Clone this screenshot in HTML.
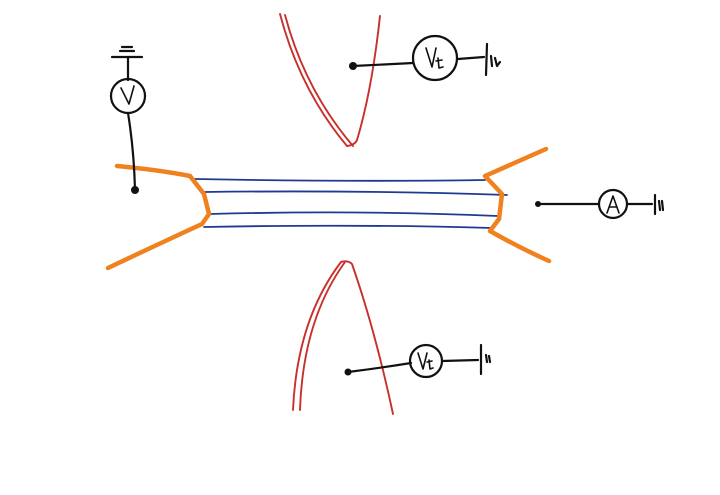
<!DOCTYPE html>
<html><head><style>html,body{margin:0;padding:0;background:#fff;}svg{display:block}</style></head>
<body>
<svg width="720" height="495" viewBox="0 0 720 495" xmlns="http://www.w3.org/2000/svg" fill="none" stroke-linecap="round" stroke-linejoin="round">
<g stroke="#1f3a93" stroke-width="1.8">
<path d="M195 179 Q350 182 485 180"/>
<path d="M205 192 Q360 190 507 195"/>
<path d="M210 214 Q360 210 498 216"/>
<path d="M204 227 Q360 224 492 228"/>
</g>
<g stroke="#f0811f" stroke-width="4.5">
<path d="M117 166 Q160 170 190 176 L204 194 L209 214 L202 224 Q150 248 108 268"/>
<path d="M546 149 L485 176 L502 194 L499 219 L490 231 Q520 248 549 261"/>
</g>
<g stroke="#c8312b" stroke-width="1.9">
<path d="M280 14 Q300 90 347 146"/>
<path d="M285 15 Q305 90 353 146"/>
<path d="M347 146 Q355 145 357 140 Q372 90 380 16"/>
<path d="M293 410 Q297 320 341 262"/>
<path d="M300 410 Q303 320 345 262"/>
<path d="M341 262 Q348 260 352 264 Q375 330 393 414"/>
</g>
<g stroke="#111" stroke-width="2.2">
<path d="M112 57 L142 57 M120 51 L134 51 M122 47 L132 47"/>
<path d="M128 58 L128 80"/>
<circle cx="128" cy="96" r="17"/>
<path d="M121 88 L129 104 L134 86" stroke-width="1.6"/>
<path d="M128 113 Q134 150 135 190"/>
<path d="M353 66 L413 63"/>
<circle cx="435" cy="58" r="22"/>
<path d="M458 59 L484 57 M487 44 L486 75 M491 56 L492 66 M495 58 L497 66 L500 62"/>
<path d="M348 372 Q380 368 411 363"/>
<circle cx="426" cy="361" r="16"/>
<path d="M442 361 L478 360 M481 345 L481 374 M486 355 L487 362 M489 356 L490 362"/>
<path d="M538 204 L599 204"/>
<circle cx="613" cy="204" r="14"/>
<path d="M627 204 L652 204 M655 195 L655 214 M659 201 L660 210 M662 201 L663 210"/>
</g>
<g fill="#111">
<circle cx="135" cy="190" r="4"/>
<circle cx="353" cy="66" r="4"/>
<circle cx="348" cy="372" r="3.5"/>
<circle cx="538" cy="204" r="3"/>
</g>
<g stroke="#111" stroke-width="1.6">
<path d="M426 48 L432 67 L436 48 M438 58 L439 68 L443 67 M436 61 L442 60"/>
<path d="M418 353 L423 369 L427 353 M429 360 L430 369 L433 368 M427 362 L432 361"/>
<path d="M607 213 L613 196 L619 213 M609 207 L617 207"/>
</g>
</svg>
</body></html>
